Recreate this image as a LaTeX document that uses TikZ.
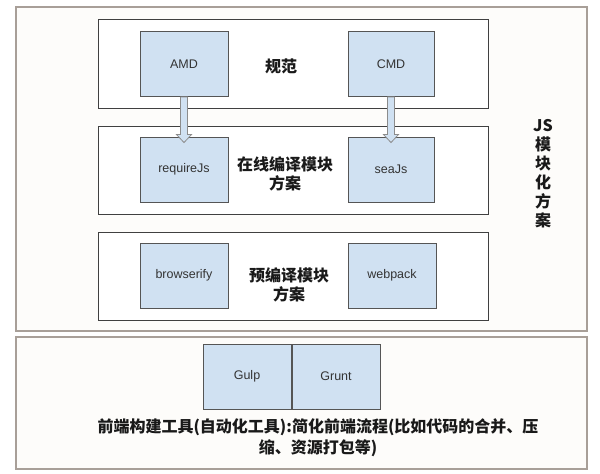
\documentclass[tikz,border=0pt]{standalone}
\usepackage{fontspec}
\newfontfamily\lat{Liberation Sans}
\newfontfamily\cjk{Noto Sans CJK SC}
\usetikzlibrary{calc}
\definecolor{boxfill}{HTML}{D0E1F2}
\definecolor{boxdraw}{HTML}{555555}
\definecolor{framedraw}{HTML}{A89F98}
\definecolor{framefill}{HTML}{FDFCFA}
\definecolor{arrowdraw}{HTML}{8C8C8C}
\tikzset{
  outerframe/.style={draw=framedraw, fill=framefill, line width=1.3pt},
  innerframe/.style={draw=black!75, fill=white, line width=0.9pt},
  tbox/.style={draw=boxdraw, fill=boxfill, line width=0.9pt, minimum width=88pt, minimum height=65pt, inner sep=0pt, font=\lat\fontsize{12.5}{14}\selectfont, text=black!80},
  clabel/.style={font=\cjk\bfseries\fontsize{16}{19}\selectfont, align=center, inner sep=0pt, text=black!90},
  blockarrow/.style={draw=arrowdraw, fill=boxfill, line width=0.8pt}
}
\begin{document}
\begin{tikzpicture}[x=1pt,y=-1pt]
\useasboundingbox (0,0) rectangle (600,474);
\fill[white] (0,0) rectangle (600,474);
% outer frames
\draw[outerframe] (16,7) rectangle (587,331);
\draw[outerframe] (16,337) rectangle (587,469);
% inner frames
\draw[innerframe] (98,19) rectangle (488,108);
\draw[innerframe] (98,126) rectangle (488,214);
\draw[innerframe] (98,232) rectangle (488,320);
% boxes
\node[tbox] (amd) at (184,64) {AMD};
\node[tbox, minimum width=86pt] (cmd) at (391,64) {CMD};
\node[tbox] (req) at (184,169.5) {requireJs};
\node[tbox, minimum width=86pt] (sea) at (391,169.5) {seaJs};
\node[tbox] (brw) at (184,275.5) {browserify};
\node[tbox] (web) at (392,275.5) {webpack};
\node[tbox] (gulp) at (247,376.5) {Gulp};
\node[tbox] (grunt) at (336,376.5) {Grunt};
% labels
\node[clabel] (l1) at (281,66) {规范};
\node[clabel] (l2) at (285,173.5) {在线编译模块\\方案};
\node[clabel] (l3) at (289,284.5) {预编译模块\\方案};
\node[clabel] (l4) at (543,174) {JS\\模\\块\\化\\方\\案};
\node[clabel, font=\cjk\bfseries\fontsize{16}{21}\selectfont] (l5) at (318,437.5) {前端构建工具(自动化工具):简化前端流程(比如代码的合并、压\\缩、资源打包等)};
% block arrows
\foreach \a/\b in {amd/req, cmd/sea}{
  \draw[blockarrow]
    ($(\a.south)+(-3.5,0)$) -- ($(\b.north)+(-3.5,-2)$) -- ($(\b.north)+(-7.5,-2)$)
    -- ($(\b.north)+(0,6)$) -- ($(\b.north)+(7.5,-2)$) -- ($(\b.north)+(3.5,-2)$)
    -- ($(\a.south)+(3.5,0)$) -- cycle;
}
\end{tikzpicture}
\end{document}
